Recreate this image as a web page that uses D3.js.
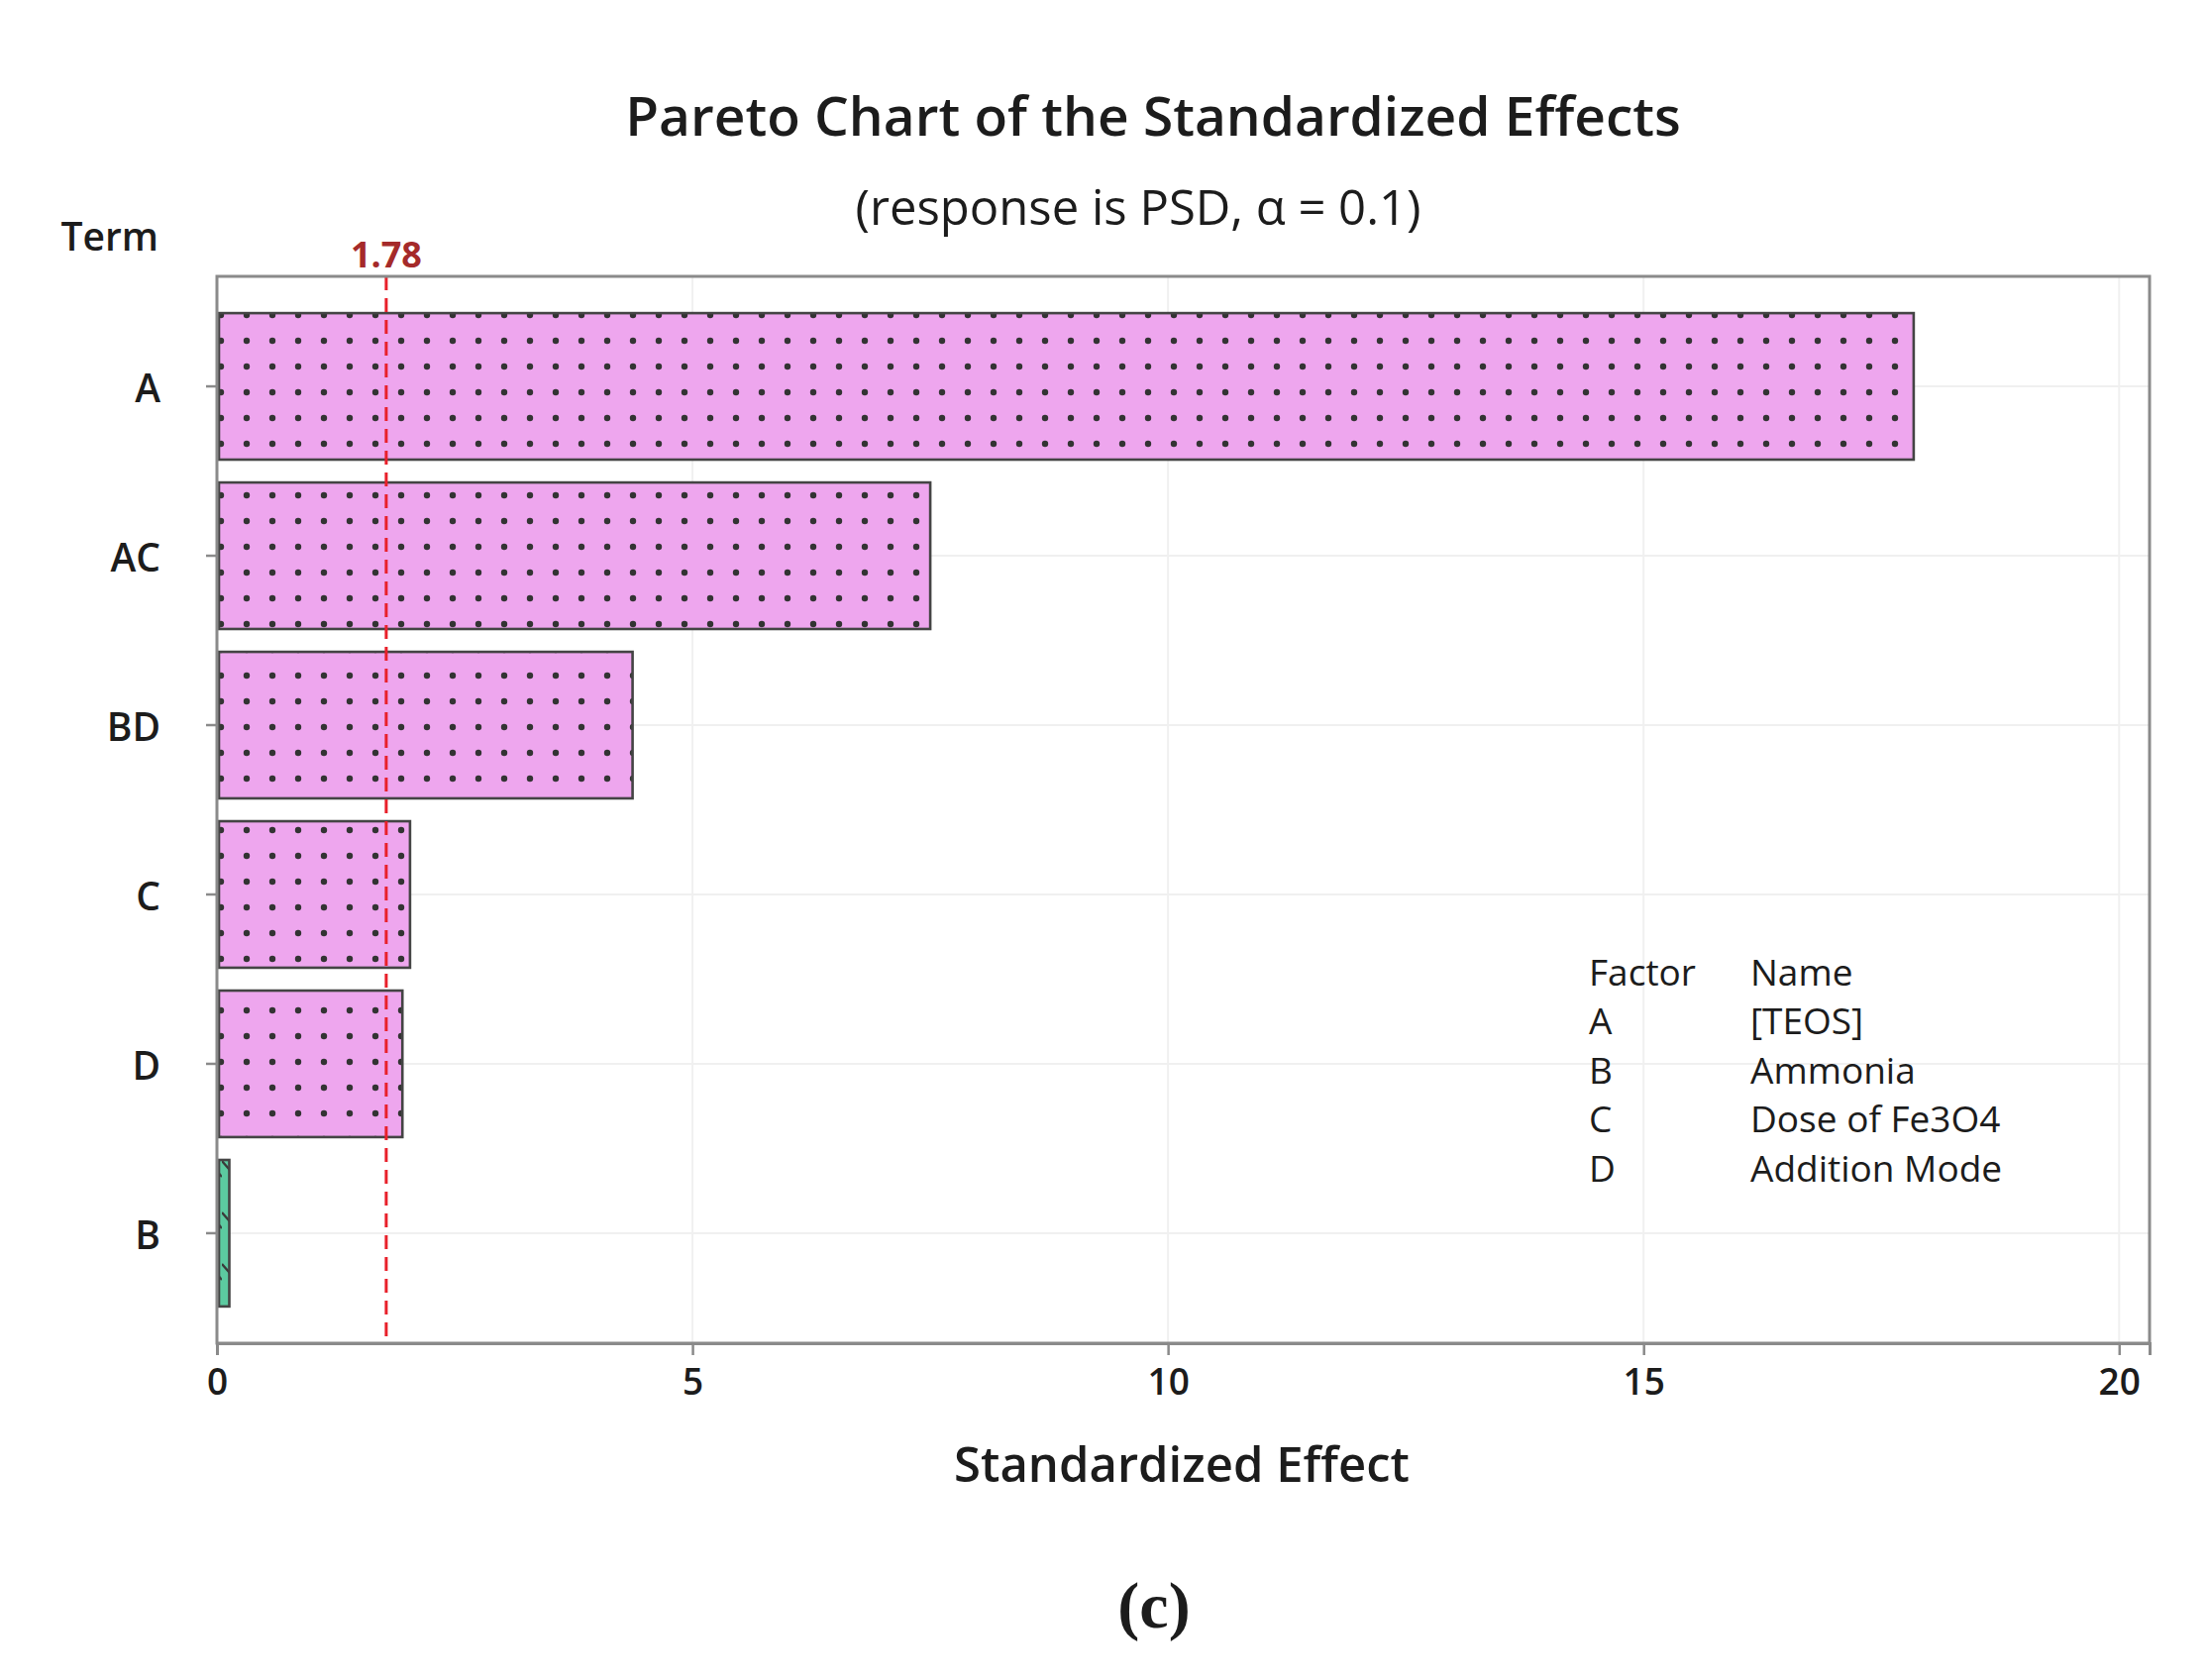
<!DOCTYPE html>
<html>
<head>
<meta charset="utf-8">
<script src="https://cdn.jsdelivr.net/npm/d3@7"></script>
<style>
  html, body { margin: 0; padding: 0; background: #fff; }
  text { font-family: "Open Sans", "Noto Sans", sans-serif; fill: #1c1c1c; }
</style>
</head>
<body>
<div id="chart"></div>
<script>
// data
const terms = ["A", "AC", "BD", "C", "D", "B"];
const effects = [17.84, 7.5, 4.37, 2.03, 1.95, 0.13];
const refValue = 1.78;
const xTicks = [0, 5, 10, 15, 20];
const factorCodes = ["A", "B", "C", "D"];
const factorNames = ["[TEOS]", "Ammonia", "Dose of Fe3O4", "Addition Mode"];

const W = 2228, H = 1696;
const margin = { top: 279, right: 58, bottom: 340, left: 219 };

const svg = d3
  .select("#chart")
  .append("svg")
  .attr("width", W)
  .attr("height", H);

const defs = svg.append("defs");

// dotted fill for significant bars
const dots = defs
  .append("pattern")
  .attr("id", "dots")
  .attr("patternUnits", "userSpaceOnUse")
  .attr("x", 2)
  .attr("y", 19)
  .attr("width", 26)
  .attr("height", 26);
dots.append("rect").attr("width", 26).attr("height", 26).attr("fill", "#eea6ee");
dots.append("circle").attr("cx", 13).attr("cy", 13).attr("r", 3.2).attr("fill", "#333");

// hatched fill for non significant bars
const hatch = defs
  .append("pattern")
  .attr("id", "hatch")
  .attr("patternUnits", "userSpaceOnUse")
  .attr("y", 10)
  .attr("width", 14)
  .attr("height", 52);
hatch.append("rect").attr("width", 14).attr("height", 52).attr("fill", "#5ccaa0");
hatch
  .append("path")
  .attr("d", "M0,18 L14,34")
  .attr("stroke", "#3a3a3a")
  .attr("stroke-width", 2.4);

// scales
const x = d3
  .scaleLinear()
  .domain([0, 20.32])
  .range([margin.left, W - margin.right]);

const y = d3
  .scaleBand()
  .domain(terms)
  .range([margin.top, H - margin.bottom])
  .paddingInner(0.135)
  .paddingOuter(0.217);

const plotBottom = H - margin.bottom;

// light grid
svg
  .append("g")
  .selectAll("line")
  .data(xTicks.slice(1))
  .join("line")
  .attr("x1", (d) => x(d))
  .attr("x2", (d) => x(d))
  .attr("y1", margin.top)
  .attr("y2", plotBottom)
  .attr("stroke", "#f0f0f0")
  .attr("stroke-width", 2);

svg
  .append("g")
  .selectAll("line")
  .data(terms)
  .join("line")
  .attr("x1", margin.left)
  .attr("x2", W - margin.right)
  .attr("y1", (d) => y(d) + y.bandwidth() / 2)
  .attr("y2", (d) => y(d) + y.bandwidth() / 2)
  .attr("stroke", "#f0f0f0")
  .attr("stroke-width", 2);

// bars
const rows = terms.map((t, i) => ({ term: t, value: effects[i] }));
svg
  .append("g")
  .selectAll("rect")
  .data(rows)
  .join("rect")
  .attr("x", x(0) + 2)
  .attr("y", (d) => y(d.term))
  .attr("width", (d) => x(d.value) - x(0) - 2)
  .attr("height", y.bandwidth())
  .attr("fill", (d) => (d.value > refValue ? "url(#dots)" : "url(#hatch)"))
  .attr("stroke", "#444")
  .attr("stroke-width", 2.6);

// reference line
svg
  .append("line")
  .attr("x1", x(refValue))
  .attr("x2", x(refValue))
  .attr("y1", margin.top)
  .attr("y2", plotBottom)
  .attr("stroke", "#e8202a")
  .attr("stroke-width", 3)
  .attr("stroke-dasharray", "14,8");

svg
  .append("text")
  .attr("x", x(refValue))
  .attr("y", 256)
  .attr("text-anchor", "middle")
  .attr("dominant-baseline", "central")
  .style("font-size", "36px")
  .style("font-weight", 700)
  .style("fill", "#a52a2a")
  .text(refValue.toFixed(2));

// frame
svg
  .append("rect")
  .attr("x", margin.left)
  .attr("y", margin.top)
  .attr("width", W - margin.right - margin.left)
  .attr("height", plotBottom - margin.top)
  .attr("fill", "none")
  .attr("stroke", "#8a8a8a")
  .attr("stroke-width", 3);

// x axis
const xAxis = svg
  .append("g")
  .attr("transform", `translate(0, ${plotBottom})`)
  .call(d3.axisBottom(x).tickValues(xTicks).tickSize(12).tickPadding(14));
xAxis.select(".domain").attr("stroke", "#8a8a8a").attr("stroke-width", 3);
xAxis.selectAll(".tick line").attr("stroke", "#8a8a8a").attr("stroke-width", 2.5);
xAxis
  .selectAll(".tick text")
  .style("font-size", "37px")
  .style("font-weight", 600)
  .style("font-family", "'Open Sans', sans-serif")
  .style("fill", "#1c1c1c");

// y axis
const yAxis = svg
  .append("g")
  .attr("transform", `translate(${margin.left}, 0)`)
  .call(d3.axisLeft(y).tickSize(11).tickPadding(46));
yAxis.select(".domain").remove();
yAxis.selectAll(".tick line").attr("stroke", "#8a8a8a").attr("stroke-width", 2.5);
yAxis
  .selectAll(".tick text")
  .attr("dy", "0.42em")
  .style("font-size", "39px")
  .style("font-weight", 600)
  .style("font-family", "'Open Sans', sans-serif")
  .style("fill", "#1c1c1c");

// titles
svg
  .append("text")
  .attr("x", 1164)
  .attr("y", 115)
  .attr("text-anchor", "middle")
  .attr("dominant-baseline", "central")
  .style("font-size", "55px")
  .style("font-weight", 600)
  .text("Pareto Chart of the Standardized Effects");

svg
  .append("text")
  .attr("x", 1149)
  .attr("y", 208)
  .attr("text-anchor", "middle")
  .attr("dominant-baseline", "central")
  .style("font-size", "49px")
  .text("(response is PSD, α = 0.1)");

svg
  .append("text")
  .attr("x", 160)
  .attr("y", 237)
  .attr("text-anchor", "end")
  .attr("dominant-baseline", "central")
  .style("font-size", "39px")
  .style("font-weight", 600)
  .text("Term");

svg
  .append("text")
  .attr("x", 1193)
  .attr("y", 1477)
  .attr("text-anchor", "middle")
  .attr("dominant-baseline", "central")
  .style("font-size", "49px")
  .style("font-weight", 600)
  .text("Standardized Effect");

// factor table
const legend = svg.append("g").style("font-size", "37px");
const legendRows = [["Factor", "Name"]].concat(
  factorCodes.map((c, i) => [c, factorNames[i]])
);
legendRows.forEach((r, i) => {
  legend
    .append("text")
    .attr("x", 1604)
    .attr("y", 980 + i * 49.5)
    .attr("dominant-baseline", "central")
    .text(r[0]);
  legend
    .append("text")
    .attr("x", 1767)
    .attr("y", 980 + i * 49.5)
    .attr("dominant-baseline", "central")
    .text(r[1]);
});

// panel caption
svg
  .append("text")
  .attr("x", 1165)
  .attr("y", 1620)
  .attr("text-anchor", "middle")
  .attr("dominant-baseline", "central")
  .style("font-family", "'Liberation Serif', serif")
  .style("font-size", "66px")
  .style("font-weight", 700)
  .text("(c)");
</script>
</body>
</html>
